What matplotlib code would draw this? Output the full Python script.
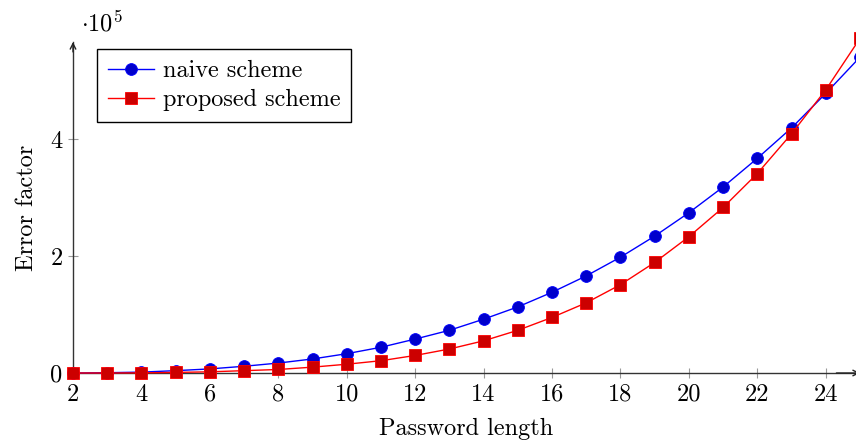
import matplotlib
matplotlib.use("Agg")
import matplotlib.pyplot as plt

plt.rcParams['font.family'] = ['cmr10', 'DejaVu Serif']
plt.rcParams['mathtext.fontset'] = 'cm'
plt.rcParams['axes.formatter.use_mathtext'] = True

# Data (values in units of 1e5)
lengths = list(range(2, 26))
naive = [0.0, 0.005, 0.015, 0.04, 0.07, 0.115, 0.17, 0.24, 0.33, 0.44, 0.58, 0.73,
         0.92, 1.13, 1.38, 1.66, 1.98, 2.34, 2.74, 3.18, 3.67, 4.19, 4.78, 5.40]
proposed = [0.0, 0.0, 0.002, 0.01, 0.02, 0.04, 0.06, 0.10, 0.15, 0.21, 0.30, 0.41,
            0.55, 0.73, 0.95, 1.20, 1.51, 1.89, 2.33, 2.83, 3.41, 4.09, 4.84, 5.72]
series_labels = ["naive scheme", "proposed scheme"]
xticks = [2, 4, 6, 8, 10, 12, 14, 16, 18, 20, 22, 24]
yticks = [0, 2, 4]

FS = 17.5
W, H = 856, 446
fig = plt.figure(figsize=(W / 100, H / 100), dpi=100)
ax = fig.add_axes([73 / W, (H - 373) / H, (860 - 73) / W, (373 - 42) / H])

ax.plot(lengths, naive, color=(0, 0, 1), lw=1.0, marker='o', markersize=8.5,
        markerfacecolor=(0, 0, 0.8), markeredgecolor=(0, 0, 1), markeredgewidth=0.6,
        label=series_labels[0], clip_on=False, zorder=3)
ax.plot(lengths, proposed, color=(1, 0, 0), lw=1.0, marker='s', markersize=8,
        markerfacecolor=(0.8, 0, 0), markeredgecolor=(1, 0, 0), markeredgewidth=0.6,
        label=series_labels[1], clip_on=False, zorder=4)

ax.set_xlim(2, 25)
ax.set_ylim(0, (373 - 42) / 58.5)

for s in ['top', 'right']:
    ax.spines[s].set_visible(False)
for s in ['left', 'bottom']:
    ax.spines[s].set_color('#333333')
    ax.spines[s].set_linewidth(1.0)

# arrow heads
ax.annotate('', xy=(0, 1.0), xytext=(0, 0.97), xycoords='axes fraction',
            arrowprops=dict(arrowstyle='->', color='#222222', lw=1.0,
                            mutation_scale=10, shrinkA=0, shrinkB=0))
ax.annotate('', xy=(1.0, 0), xytext=(0.97, 0), xycoords='axes fraction',
            arrowprops=dict(arrowstyle='->', color='#222222', lw=1.0,
                            mutation_scale=10, shrinkA=0, shrinkB=0))

ax.set_xticks(xticks)
ax.set_xticklabels([str(t) for t in xticks])
ax.set_yticks(yticks)
ax.set_yticklabels([str(t) for t in yticks])
ax.tick_params(direction='inout', length=7, width=0.8, color='#999999',
               labelsize=FS, pad=4)

ax.set_xlabel("Password length", fontsize=FS, labelpad=9)
ax.set_ylabel("Error factor", fontsize=FS, labelpad=9)
fig.text(81 / W, 1 - 31 / H, r'$\cdot 10^{5}$', fontsize=FS, ha='left',
         va='baseline')

leg = ax.legend(loc='upper left', bbox_to_anchor=(97 / W, 1 - 49 / H),
                bbox_transform=fig.transFigure, borderaxespad=0, fontsize=FS,
                fancybox=False, edgecolor='black', framealpha=1,
                handlelength=1.9, handletextpad=0.35, borderpad=0.45,
                labelspacing=0.3)
leg.get_frame().set_linewidth(1.0)

fig.savefig("out.png", dpi=100)
